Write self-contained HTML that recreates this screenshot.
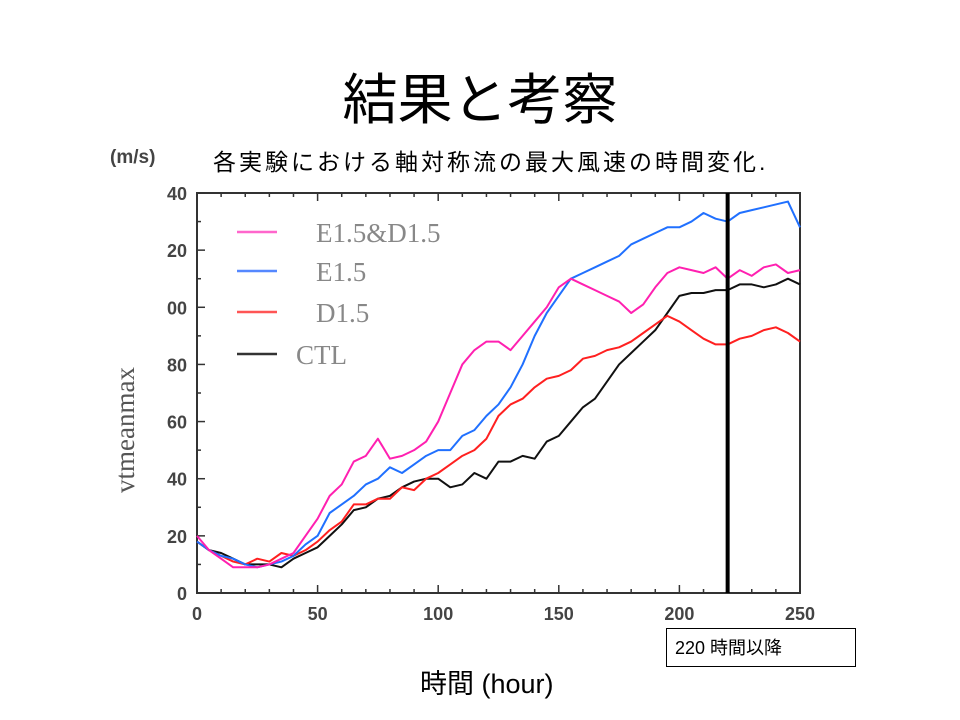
<!DOCTYPE html>
<html><head><meta charset="utf-8"><style>
body{margin:0;width:960px;height:720px;background:#fff;overflow:hidden;position:relative;font-family:"Liberation Sans","Noto Sans CJK JP",sans-serif}
.t{position:absolute;white-space:nowrap}
</style></head><body>
<div class="t" style="left:0;width:960px;text-align:center;top:55px;font-size:55px">結果と考察</div>
<div class="t" style="left:213px;top:143px;font-size:23px;letter-spacing:3px">各実験における軸対称流の最大風速の時間変化.</div>
<div class="t" style="left:110px;top:147px;font-size:19px;color:#444;font-weight:bold">(m/s)</div>
<svg id="c" width="960" height="720" style="position:absolute;left:0;top:0"></svg>
<div class="t" style="left:666px;top:628px;width:190px;height:39px;border:1px solid #000;font-size:18px;line-height:39px;padding-left:8px;box-sizing:border-box">220 時間以降</div>
<div class="t" style="left:420px;top:662px;font-size:27px">時間 (hour)</div>
<script>
const hours=[0,5,10,15,20,25,30,35,40,45,50,55,60,65,70,75,80,85,90,95,100,105,110,115,120,125,130,135,140,145,150,155,160,165,170,175,180,185,190,195,200,205,210,215,220,225,230,235,240,245,250];
const e15d15=[20,15,12,9,9,9,10,12,14,20,26,34,38,46,48,54,47,48,50,53,60,70,80,85,88,88,85,90,95,100,107,110,108,106,104,102,98,101,107,112,114,113,112,114,110,113,111,114,115,112,113];
const e15=[18,15,13,12,10,9,10,11,13,17,20,28,31,34,38,40,44,42,45,48,50,50,55,57,62,66,72,80,90,98,104,110,112,114,116,118,122,124,126,128,128,130,133,131,130,133,134,135,136,137,128];
const d15=[18,15,13,11,10,12,11,14,13,15,18,22,25,31,31,33,33,37,36,40,42,45,48,50,54,62,66,68,72,75,76,78,82,83,85,86,88,91,94,97,95,92,89,87,87,89,90,92,93,91,88];
const ctl=[18,15,14,12,10,10,10,9,12,14,16,20,24,29,30,33,34,37,39,40,40,37,38,42,40,46,46,48,47,53,55,60,65,68,74,80,84,88,92,98,104,105,105,106,106,108,108,107,108,110,108];
const xTicks=[0,50,100,150,200,250];
const yTicks=[0,20,40,60,80,100,120,140];
const yTickLabels=["0","20","40","60","80","00","20","40"];
const markerHour=220;
const L=197,R=800,T=193,B=593;
const X=h=>L+h/250*(R-L), Y=v=>B-v/140*(B-T);
const svg=document.getElementById('c');const NS='http://www.w3.org/2000/svg';
function mk(t,a,p){const e=document.createElementNS(NS,t);for(const k in a)e.setAttribute(k,a[k]);(p||svg).appendChild(e);return e;}
let f=mk('rect',{x:L,y:T,width:R-L,height:B-T,fill:'none',stroke:'#333','stroke-width':2});


for(let h=0;h<=250;h+=10){const big=h%50==0;mk('line',{x1:X(h),x2:X(h),y1:B,y2:B-(big?8:4),stroke:'#333','stroke-width':1.5});mk('line',{x1:X(h),x2:X(h),y1:T,y2:T+(big?8:4),stroke:'#333','stroke-width':1.5});}
for(let v=0;v<=140;v+=10){const big=v%20==0;mk('line',{y1:Y(v),y2:Y(v),x1:L,x2:L+(big?8:4),stroke:'#333','stroke-width':1.5});}
xTicks.forEach(h=>{const t=mk('text',{x:X(h),y:B+27,'text-anchor':'middle','font-size':18,'font-weight':'bold',fill:'#444','font-family':'Liberation Sans'});t.textContent=h;

});
yTicks.forEach((v,i)=>{const t=mk('text',{x:L-10,y:Y(v)+7,'text-anchor':'end','font-size':18,'font-weight':'bold',fill:'#444','font-family':'Liberation Sans'});t.textContent=yTickLabels[i];

});
const yt=mk('text',{x:0,y:0,transform:'translate(134,430) rotate(-90)','text-anchor':'middle','font-size':27,fill:'#555','font-family':'Liberation Serif'});yt.textContent='vtmeanmax';


const series=[[ctl,'#111','series-ctl'],[d15,'#ff2020','series-d15'],[e15,'#2070ff','series-e15'],[e15d15,'#ff20b0','series-e15-d15']];
series.forEach(([d,c,n])=>{const p=mk('polyline',{points:d.map((v,i)=>X(hours[i])+','+Y(v)).join(' '),fill:'none',stroke:c,'stroke-width':2,'stroke-linejoin':'round'});

});
const ml=mk('line',{x1:X(markerHour),x2:X(markerHour),y1:T,y2:B,stroke:'#000','stroke-width':4});


const leg=[['E1.5&D1.5','#ff66cc',232,316],['E1.5','#5588ff',271,316],['D1.5','#ff5555',312,316],['CTL','#333',354,296]];
leg.forEach(([n,c,y,tx])=>{const g=mk('g',{});


mk('line',{x1:237,x2:277,y1:y,y2:y,stroke:c,'stroke-width':2.5},g);const t=mk('text',{x:tx,y:y+10,'font-size':27,fill:'#888','font-family':'Liberation Serif'},g);t.textContent=n;});
</script>
</body></html>
